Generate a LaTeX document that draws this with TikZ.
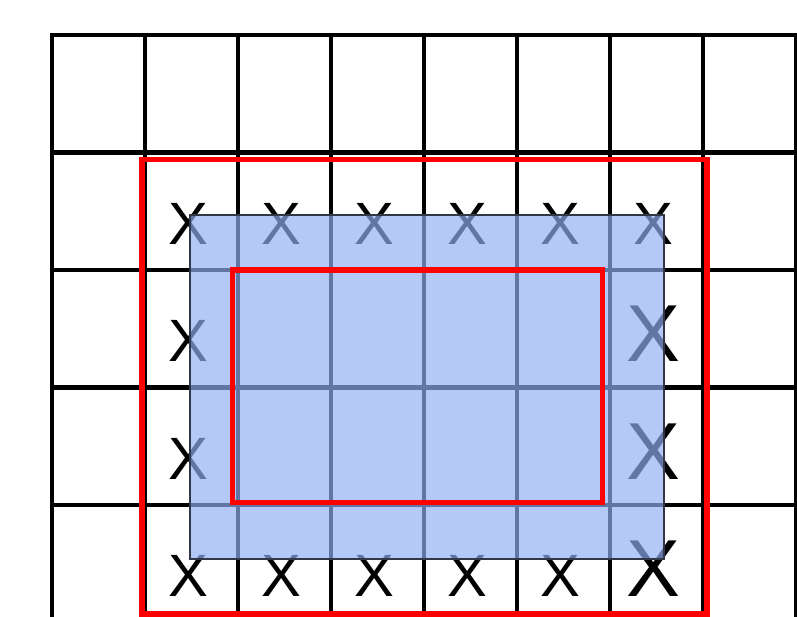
\documentclass[tikz,border=0pt]{standalone}
\usepackage{fontspec}
\setmainfont{Liberation Sans}
\definecolor{patchblue}{RGB}{145,175,245}
\definecolor{patchedge}{RGB}{50,55,70}
\tikzset{
  gridline/.style={line width=1.3pt, black, line cap=rect},
  markx/.style={anchor=base, inner sep=0pt, font=\fontsize{17}{17}\selectfont},
  bigx/.style={markx, font=\fontsize{23}{23}\selectfont},
  patch/.style={fill=patchblue, fill opacity=0.68, draw=patchedge, draw opacity=1, line width=0.7pt},
  window/.style={draw=red, line width=1.6pt}
}
\begin{document}
\begin{tikzpicture}[x=0.93cm, y=-1.175cm]
    \clip (-0.559,-0.298) rectangle (8.011,4.945);
    % grid
    \foreach \c in {0,...,8}
        \draw[gridline] (\c,0) -- (\c,5.3);
    \foreach \r in {0,...,5}
        \draw[gridline] (0,\r) -- (8,\r);
    % marks around the patch
    \foreach \c in {1,...,6}
        \node[markx] (x-1-\c) at (\c+0.47,1.78) {X};
    \foreach \r in {2,3}{
        \node[markx] (x-\r-1) at (1.47,\r+0.78) {X};
        \node[bigx] (x-\r-6) at (6.47,\r+0.78) {X};
    }
    \foreach \c in {1,...,5}
        \node[markx] (x-4-\c) at (\c+0.47,4.78) {X};
    \node[bigx] (x-4-6) at (6.47,4.78) {X};
    % patch and windows
    \draw[patch] (1.484,1.532) rectangle (6.58,4.46);
    \draw[window] (0.97,1.06) rectangle (7.04,4.93);
    \draw[window] (1.94,2.0) rectangle (5.92,3.98);
\end{tikzpicture}
\end{document}
